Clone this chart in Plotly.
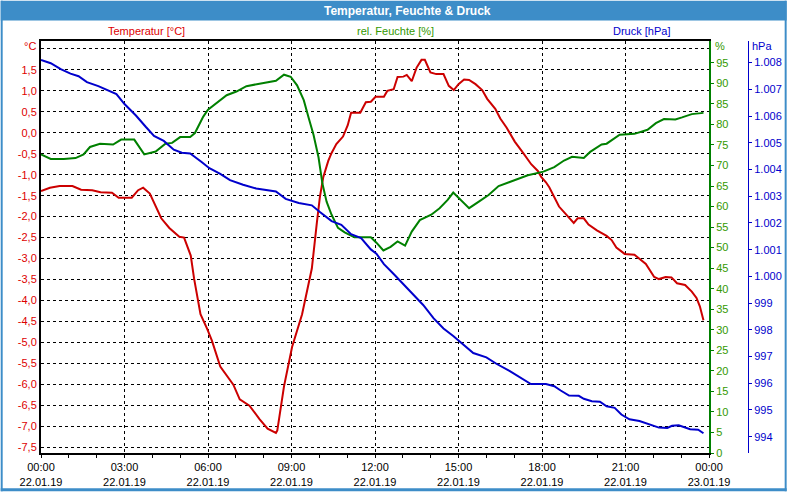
import pandas as pd
import plotly.graph_objects as go

# ---------------- data (hours after 22.01.19 00:00) ----------------
temp_hours = [0, 0.32, 0.67, 1.13, 1.44, 1.84, 2.14, 2.55, 2.79, 3.26, 3.49, 3.67, 3.91, 4.32, 4.61,
              4.97, 5.14, 5.38, 5.50, 5.73, 5.97, 6.14, 6.44, 6.91, 7.14, 7.49, 7.85, 8.14, 8.44, 8.49,
              8.73, 9.02, 9.38, 9.73, 9.91, 10.02, 10.14, 10.32, 10.44, 10.61, 10.85, 11.02, 11.14,
              11.47, 11.67, 11.85, 12.02, 12.32, 12.44, 12.67, 12.81, 13.02, 13.14, 13.32, 13.49,
              13.67, 13.79, 13.99, 14.2, 14.46, 14.65, 14.83, 15.0, 15.2, 15.38, 15.61, 15.85, 16.03,
              16.32, 16.5, 16.73, 17.02, 17.32, 17.61, 17.85, 17.97, 18.14, 18.26, 18.61, 18.91, 19.14,
              19.28, 19.5, 19.67, 19.97, 20.32, 20.5, 20.67, 20.97, 21.32, 21.5, 21.73, 22.03, 22.2,
              22.44, 22.65, 22.85, 23.14, 23.38, 23.55, 23.67, 23.75, 23.80]
temp_values = [-1.39, -1.31, -1.27, -1.27, -1.36, -1.37, -1.42, -1.43, -1.55, -1.55, -1.37, -1.31, -1.45,
               -2.04, -2.27, -2.48, -2.50, -2.93, -3.48, -4.33, -4.68, -4.96, -5.58, -6.01, -6.36, -6.51,
               -6.83, -7.06, -7.16, -7.10, -6.05, -5.11, -4.33, -3.24, -2.15, -1.53, -1.06, -0.67, -0.48,
               -0.27, -0.09, 0.18, 0.48, 0.48, 0.73, 0.74, 0.86, 0.86, 1.0, 1.04, 1.33, 1.34, 1.38, 1.23,
               1.55, 1.74, 1.74, 1.44, 1.40, 1.40, 1.12, 1.02, 1.16, 1.27, 1.26, 1.16, 1.02, 0.81, 0.57,
               0.34, 0.12, -0.21, -0.48, -0.75, -0.91, -1.05, -1.18, -1.30, -1.76, -1.98, -2.15, -2.04,
               -2.04, -2.19, -2.33, -2.46, -2.56, -2.74, -2.89, -2.91, -3.01, -3.13, -3.44, -3.49, -3.44,
               -3.45, -3.59, -3.63, -3.79, -3.94, -4.14, -4.33, -4.47]

hum_hours = [0, 0.35, 0.82, 1.24, 1.53, 1.76, 2.12, 2.59, 2.88, 3.35, 3.71, 4.12, 4.47, 4.71, 5.0, 5.36,
             5.53, 5.83, 6.0, 6.38, 6.67, 7.02, 7.38, 7.85, 8.44, 8.73, 8.97, 9.2, 9.44, 9.62, 9.79, 9.97,
             10.11, 10.26, 10.44, 10.67, 10.91, 11.26, 11.85, 12.05, 12.3, 12.56, 12.81, 13.08, 13.32,
             13.61, 14.02, 14.32, 14.61, 14.81, 15.02, 15.38, 15.73, 16.08, 16.44, 17.02, 17.49, 18.05,
             18.44, 18.79, 19.08, 19.5, 19.73, 20.14, 20.32, 20.79, 21.32, 21.79, 22.09, 22.38, 22.79,
             23.03, 23.38, 23.80]
hum_values = [72.7, 71.6, 71.6, 71.8, 72.7, 74.5, 75.3, 75.1, 76.3, 76.3, 72.7, 73.4, 75.3, 75.5, 76.9,
              76.9, 77.9, 81.9, 83.6, 85.6, 87.1, 88.0, 89.3, 89.9, 90.6, 92.1, 91.6, 89.5, 85.9, 81.5,
              77.5, 72.0, 65.6, 61.2, 58.0, 54.8, 53.7, 52.5, 52.5, 51.2, 49.3, 50.2, 51.5, 50.5, 53.9,
              56.7, 58.0, 59.6, 61.6, 63.4, 62.0, 59.6, 61.2, 62.8, 65.0, 66.4, 67.6, 68.5, 69.6, 71.2,
              72.1, 71.8, 73.3, 75.1, 75.3, 77.5, 77.7, 78.7, 80.3, 81.3, 81.2, 81.7, 82.5, 82.8]

press_hours = [0, 0.35, 0.71, 1.06, 1.35, 1.65, 2.06, 2.41, 2.71, 3.0, 3.41, 3.77, 4.06, 4.41, 4.77, 5.06,
               5.36, 5.77, 6.05, 6.44, 6.79, 7.26, 7.73, 8.44, 8.79, 9.26, 9.73, 10.02, 10.44, 10.79,
               11.14, 11.5, 11.85, 12.05, 12.32, 12.67, 13.02, 13.38, 13.73, 14.1, 14.46, 14.81, 15.17,
               15.53, 16.0, 16.36, 16.83, 17.3, 17.6, 18.14, 18.44, 18.67, 18.97, 19.32, 19.5, 19.79,
               20.08, 20.32, 20.61, 20.85, 21.14, 21.5, 21.85, 22.2, 22.5, 22.67, 22.91, 23.08, 23.32,
               23.61, 23.80]
press_values = [1008.10, 1007.98, 1007.76, 1007.59, 1007.49, 1007.27, 1007.12, 1006.97, 1006.82, 1006.45,
                1006.02, 1005.59, 1005.26, 1005.07, 1004.74, 1004.63, 1004.60, 1004.28, 1004.05,
                1003.84, 1003.60, 1003.43, 1003.29, 1003.18, 1002.90, 1002.75, 1002.66, 1002.41,
                1002.07, 1001.93, 1001.58, 1001.43, 1001.01, 1000.85, 1000.46, 1000.09, 999.72, 999.32,
                998.93, 998.44, 998.05, 997.77, 997.44, 997.13, 996.97, 996.73, 996.46, 996.18, 995.97,
                995.97, 995.89, 995.73, 995.54, 995.53, 995.42, 995.33, 995.31, 995.14, 995.08, 994.83,
                994.65, 994.59, 994.46, 994.34, 994.33, 994.41, 994.43, 994.37, 994.28, 994.26, 994.13]

temp_ticks = [2.0 - 0.5 * i for i in range(20)]
hum_ticks = list(range(0, 100, 5))
press_ticks = list(range(994, 1009))
x_tick_hours = list(range(0, 25, 3))

# ---------------- helpers ----------------
base = pd.Timestamp("2019-01-22 00:00")
def to_time(hours):
    return base + pd.to_timedelta(hours, unit="h")

RED = "#cc0000"
GREEN = "#008000"
BLUE = "#0000cc"
FONT = "Liberation Sans"

W, H = 800, 500
ML, MR, MT, MB = 41, 20, 41, 39
PW = W - ML - MR
PH = H - MT - MB

def px(x):
    return (x - ML) / PW

def py(y):
    return (H - MB - y) / PH

fig = go.Figure()
fig.add_trace(go.Scatter(x=to_time(temp_hours), y=temp_values, mode="lines",
                         line=dict(color=RED, width=2), yaxis="y", name="Temperatur"))
fig.add_trace(go.Scatter(x=to_time(hum_hours), y=hum_values, mode="lines",
                         line=dict(color=GREEN, width=2), yaxis="y2", name="Feuchte"))
fig.add_trace(go.Scatter(x=to_time(press_hours), y=press_values, mode="lines",
                         line=dict(color=BLUE, width=2), yaxis="y3", name="Druck"))

xt = to_time(x_tick_hours)
x_end = (W - 79 - ML) / PW  # plot right edge at px 721

# top gridline (2,0) carries no label: the unit "°C" sits there instead
temp_text = ["" if abs(v - 2.0) < 1e-9 else f"{v:.1f}".replace(".", ",") for v in temp_ticks]

fig.update_layout(
    width=W, height=H,
    margin=dict(l=ML, r=MR, t=MT, b=MB),
    paper_bgcolor="white", plot_bgcolor="white",
    showlegend=False,
    font=dict(family=FONT, size=11, color="black"),
    xaxis=dict(
        domain=[0, x_end], type="date",
        range=[to_time(0), to_time(24)],
        tickvals=xt,
        ticktext=[t.strftime("%H:%M") + "<br>" + t.strftime("%d.%m.%y") for t in xt],
        ticks="outside", ticklen=3, tickcolor="black",
        minor=dict(dtick=3600000, ticks="outside", ticklen=3, tickcolor="black", showgrid=False),
        showline=True, linecolor="black", linewidth=2, mirror=True,
        showgrid=True, gridcolor="black", gridwidth=1, griddash="3px,3px",
        tickfont=dict(family=FONT, size=11, color="black"),
        zeroline=False,
    ),
    yaxis=dict(
        range=[-7.64, 2.19],
        tickvals=temp_ticks,
        ticktext=temp_text,
        showline=True, linecolor="black", linewidth=2,
        showgrid=True, gridcolor="black", gridwidth=1, griddash="3px,3px",
        ticks="", tickfont=dict(family=FONT, size=11, color="#dd0000"),
        zeroline=False,
    ),
    yaxis2=dict(
        overlaying="y", side="right", anchor="x",
        range=[0, 100.3],
        tickvals=hum_ticks, ticktext=[str(v) for v in hum_ticks],
        showline=True, linecolor=GREEN, linewidth=2,
        ticks="outside", ticklen=3, tickcolor=GREEN,
        showgrid=False, zeroline=False,
        tickfont=dict(family=FONT, size=11, color="#339900"),
    ),
    yaxis3=dict(
        overlaying="y", side="right", anchor="free", position=px(760.7),
        range=[993.39, 1008.81],
        tickvals=press_ticks,
        ticktext=[f"{v:,}".replace(",", ".") for v in press_ticks],
        showline=True, linecolor=BLUE, linewidth=1,
        ticks="outside", ticklen=3, tickcolor=BLUE,
        showgrid=False, zeroline=False,
        tickfont=dict(family=FONT, size=11, color=BLUE),
    ),
    shapes=[
        dict(type="rect", xref="paper", yref="paper", x0=px(0), x1=px(800), y0=py(20), y1=py(0),
             fillcolor="#3d8dc8", line=dict(width=0), layer="above"),
        dict(type="rect", xref="paper", yref="paper", x0=px(0), x1=px(2), y0=py(500), y1=py(0),
             fillcolor="#3d8dc8", line=dict(width=0), layer="above"),
        dict(type="rect", xref="paper", yref="paper", x0=px(798), x1=px(800), y0=py(500), y1=py(0),
             fillcolor="#3d8dc8", line=dict(width=0), layer="above"),
        dict(type="rect", xref="paper", yref="paper", x0=px(0), x1=px(800), y0=py(500), y1=py(497),
             fillcolor="#3d8dc8", line=dict(width=0), layer="above"),
    ],
    annotations=[
        dict(text="<b>Temperatur, Feuchte & Druck</b>", x=px(414), y=py(10), xref="paper", yref="paper",
             showarrow=False, xanchor="center", yanchor="middle",
             font=dict(family=FONT, size=12, color="white")),
        dict(text="Temperatur [°C]", x=px(148), y=py(31), xref="paper", yref="paper",
             showarrow=False, xanchor="center", yanchor="middle",
             font=dict(family=FONT, size=11, color="#dd0000")),
        dict(text="rel. Feuchte [%]", x=px(402), y=py(31), xref="paper", yref="paper",
             showarrow=False, xanchor="center", yanchor="middle",
             font=dict(family=FONT, size=11, color="#339900")),
        dict(text="Druck [hPa]", x=px(652), y=py(31), xref="paper", yref="paper",
             showarrow=False, xanchor="center", yanchor="middle",
             font=dict(family=FONT, size=11, color=BLUE)),
        dict(text="°C", x=px(38), y=py(46), xref="paper", yref="paper",
             showarrow=False, xanchor="right", yanchor="middle",
             font=dict(family=FONT, size=11, color="#dd0000")),
        dict(text="%", x=px(725), y=py(46), xref="paper", yref="paper",
             showarrow=False, xanchor="left", yanchor="middle",
             font=dict(family=FONT, size=11, color="#339900")),
        dict(text="hPa", x=px(763), y=py(46), xref="paper", yref="paper",
             showarrow=False, xanchor="left", yanchor="middle",
             font=dict(family=FONT, size=11, color=BLUE)),
    ],
)

fig.write_html("out.html")
